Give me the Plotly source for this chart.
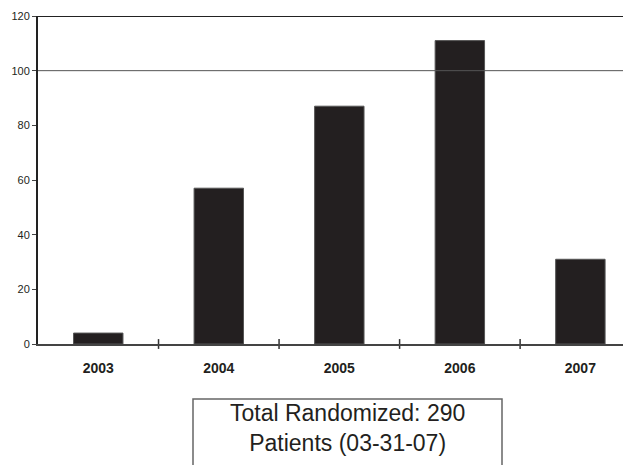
import plotly.graph_objects as go

years = ["2003", "2004", "2005", "2006", "2007"]
randomized = [4, 57, 87, 111, 31]
y_ticks = [0, 20, 40, 60, 80, 100, 120]
box_lines = ["Total Randomized: 290", "Patients (03-31-07)"]

OFF = 8  # default page margin
W, H = 631 - OFF, 465 - OFF
L, T = 38 - OFF, 16 - OFF
BOTTOM = 344 - OFF
B = H - BOTTOM
plot_w = W - L
plot_h = BOTTOM - T

def px_x(p):
    return (p - OFF - L) / plot_w

def px_y(p):
    return (BOTTOM - (p - OFF)) / plot_h

fig = go.Figure()
fig.add_trace(go.Bar(
    x=list(range(len(years))), y=randomized,
    marker=dict(color="#231f20", line=dict(color="#555", width=1)),
    width=0.41,
))

# category boundary ticks on the x axis
fig.add_trace(go.Scatter(
    x=[i + 0.5 for i in range(len(years) - 1)], y=[0] * (len(years) - 1),
    mode="markers", marker=dict(symbol="line-ns", size=7, line=dict(color="#333", width=1.5)),
    hoverinfo="skip", cliponaxis=False,
))

fig.add_hline(y=100, line=dict(color="#555", width=1))
fig.add_hline(y=120, line=dict(color="#222", width=2))

fig.update_layout(
    width=W, height=H,
    margin=dict(l=L, r=0, t=T, b=B),
    paper_bgcolor="white", plot_bgcolor="white",
    showlegend=False,
    font=dict(family="Liberation Sans, Arial, sans-serif", color="#231f20"),
    xaxis=dict(
        range=[-0.5, 4.42], tickmode="array",
        tickvals=list(range(len(years))), ticktext=years,
        tickfont=dict(size=14, family="Liberation Sans, Arial", weight="bold"),
        showgrid=False, zeroline=False, showline=True, linecolor="#444", linewidth=1.5,
        ticks="", ticklabelstandoff=10,
    ),
    yaxis=dict(
        range=[0, 120], tickvals=y_ticks,
        tickfont=dict(size=11, family="Liberation Sans, Arial"),
        showgrid=False, zeroline=False, showline=True, linecolor="#222", linewidth=2,
        ticks="outside", ticklen=4, tickcolor="#444", tickwidth=1,
    ),
)

fig.add_shape(type="rect", xref="paper", yref="paper",
              x0=px_x(193), x1=px_x(502), y0=px_y(475), y1=px_y(399),
              line=dict(color="#666", width=1.5), fillcolor="rgba(0,0,0,0)")

fig.add_annotation(xref="paper", yref="paper", x=px_x(347.5), y=px_y(428),
                   text="<br>".join(box_lines), showarrow=False,
                   font=dict(size=23, family="Liberation Sans, Arial", color="#231f20"),
                   xanchor="center", yanchor="middle")

fig.write_html("out.html")
